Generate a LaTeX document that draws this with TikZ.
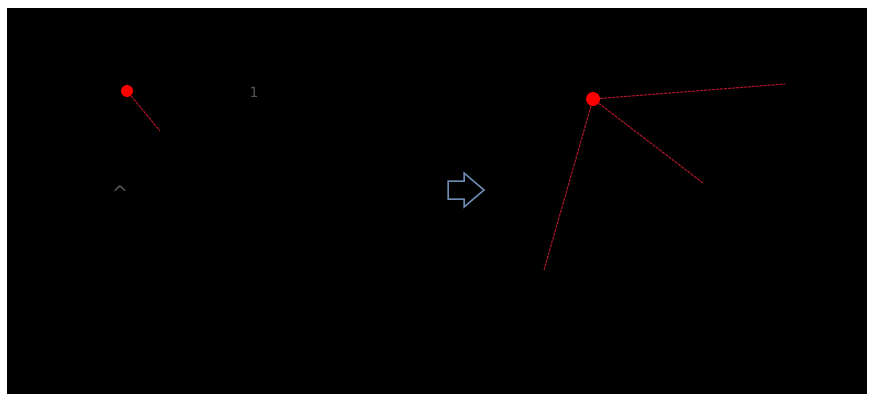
\documentclass[tikz,border=0pt]{standalone}
\usepackage{fontspec}
\setmainfont{DejaVu Sans}
\begin{document}
\begin{tikzpicture}[x=1pt,y=-1pt,
  dot/.style={circle,fill=red,inner sep=0pt},
  ray/.style={draw={rgb,255:red,170;green,20;blue,40},line width=1.1pt,dash pattern=on 3pt off 1pt},
  glyph/.style={text={rgb,255:red,85;green,85;blue,85},inner sep=0pt}]
\useasboundingbox (0,0) rectangle (869,396);
\fill[white] (0,0) rectangle (869,396);
\fill[black] (7,8) rectangle (867,394);
% left
\node[dot,minimum size=12pt] (d1) at (127,91) {};
\coordinate (e1) at (160,131);
\draw[ray] (d1) -- (e1);
\node[glyph,font=\fontsize{14}{14}\selectfont] (g1) at (254,92) {1};
\node[glyph,font=\fontsize{20}{20}\selectfont] (g2) at (120,193) {\^{}};
% arrow
\draw[draw={rgb,255:red,110;green,140;blue,180},line width=1.5pt,line join=miter]
  (448,181) -- (464,181) -- (464,173) -- (484,190) -- (464,207) -- (464,199) -- (448,199) -- cycle;
% right
\node[dot,minimum size=14pt] (d2) at (593,99) {};
\coordinate (r1) at (785,84);
\coordinate (r2) at (703,183);
\coordinate (r3) at (544,270);
\draw[ray] (d2) -- (r1);
\draw[ray] (d2) -- (r2);
\draw[ray] (d2) -- (r3);
\end{tikzpicture}
\end{document}
